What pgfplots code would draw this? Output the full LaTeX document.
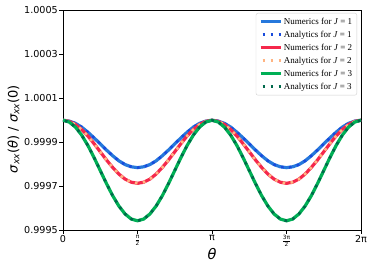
\documentclass[border=0pt]{standalone}
\usepackage{pgfplots}
\pgfplotsset{compat=1.18}
\usepackage{pgfplotstable}
\usepackage{fontspec}
\setmainfont{Liberation Serif}
\newfontfamily\djv{DejaVu Sans}
\definecolor{cB}{RGB}{38,120,220}
\definecolor{cBd}{RGB}{25,75,220}
\definecolor{cR}{RGB}{245,40,75}
\definecolor{cO}{RGB}{255,180,130}
\definecolor{cG}{RGB}{0,175,85}
\definecolor{cGd}{RGB}{0,105,75}
\newcommand\fr[2]{$\frac{\mbox{\djv\fontsize{5.8}{6}\selectfont #1}}{\mbox{\djv\fontsize{5.8}{6}\selectfont #2}}$}
\newcommand\sig{{\itshape σ}\textsubscript{\itshape xx}}
\pgfplotstableread{
x j1 j2 j3
0.0000 1.000000 1.000000 1.000000
0.1309 0.999996 0.999995 0.999992
0.2618 0.999986 0.999981 0.999969
0.3927 0.999969 0.999958 0.999933
0.5236 0.999946 0.999929 0.999886
0.6545 0.999920 0.999894 0.999831
0.7854 0.999893 0.999857 0.999772
0.9163 0.999865 0.999820 0.999713
1.0472 0.999839 0.999786 0.999658
1.1781 0.999816 0.999756 0.999611
1.3090 0.999799 0.999733 0.999575
1.4399 0.999789 0.999719 0.999552
1.5708 0.999785 0.999714 0.999544
1.7017 0.999789 0.999719 0.999552
1.8326 0.999799 0.999733 0.999575
1.9635 0.999816 0.999756 0.999611
2.0944 0.999839 0.999786 0.999658
2.2253 0.999865 0.999820 0.999713
2.3562 0.999893 0.999857 0.999772
2.4871 0.999920 0.999894 0.999831
2.6180 0.999946 0.999929 0.999886
2.7489 0.999969 0.999958 0.999933
2.8798 0.999986 0.999981 0.999969
3.0107 0.999996 0.999995 0.999992
3.1416 1.000000 1.000000 1.000000
3.2725 0.999996 0.999995 0.999992
3.4034 0.999986 0.999981 0.999969
3.5343 0.999969 0.999958 0.999933
3.6652 0.999946 0.999929 0.999886
3.7961 0.999920 0.999894 0.999831
3.9270 0.999893 0.999857 0.999772
4.0579 0.999865 0.999820 0.999713
4.1888 0.999839 0.999786 0.999658
4.3197 0.999816 0.999756 0.999611
4.4506 0.999799 0.999733 0.999575
4.5815 0.999789 0.999719 0.999552
4.7124 0.999785 0.999714 0.999544
4.8433 0.999789 0.999719 0.999552
4.9742 0.999799 0.999733 0.999575
5.1051 0.999816 0.999756 0.999611
5.2360 0.999839 0.999786 0.999658
5.3669 0.999865 0.999820 0.999713
5.4978 0.999893 0.999857 0.999772
5.6287 0.999920 0.999894 0.999831
5.7596 0.999946 0.999929 0.999886
5.8905 0.999969 0.999958 0.999933
6.0214 0.999986 0.999981 0.999969
6.1523 0.999996 0.999995 0.999992
6.2832 1.000000 1.000000 1.000000
}\data
\begin{document}
\begin{tikzpicture}
\useasboundingbox (-63pt,-39.5pt) rectangle (311pt,230.5pt);
\begin{axis}[
  at={(0,0)}, anchor=south west,
  scale only axis, width=298pt, height=220.5pt,
  xmin=0, xmax=6.2832, ymin=0.9995, ymax=1.0005,
  xtick={0,1.5708,3.1416,4.7124,6.2832},
  xticklabels={0,\fr{π}{2},π,\fr{3π}{2},2π},
  ytick={0.9995,0.9997,0.9999,1.0001,1.0003,1.0005},
  yticklabels={0.9995,0.9997,0.9999,1.0001,1.0003,1.0005},
  scaled y ticks=false, scaled x ticks=false,
  tick pos=left, tick align=outside,
  major tick length=3.5pt,
  tick style={black, line width=0.8pt},
  axis line style={line width=0.8pt},
  ticklabel style={font=\djv\fontsize{9.6}{11}\selectfont},
  xticklabel style={inner sep=1pt},
  yticklabel style={inner sep=1.5pt},
  xlabel={\itshape θ},
  ylabel={\sig(\textit{θ}) / \sig(0)},
  xlabel style={font=\djv\fontsize{14.5}{16}\selectfont, at={(axis description cs:0.5,-0.107)}, anchor=center},
  ylabel style={font=\djv\fontsize{13}{15}\selectfont, at={(axis description cs:-0.1661,0.46)}, anchor=center},
  legend cell align=left,
  legend style={at={(0.9866,0.9864)}, anchor=north east, draw=black!18, rounded corners=2pt,
    font=\fontsize{9}{10}\selectfont, row sep=0pt,
    nodes={inner sep=1.6pt, text height=7.5pt, text depth=2.3pt}},
  legend image code/.code={\draw[#1] (0pt,0pt) -- (20pt,0pt);},
]
\addplot[cB, line width=3.2pt] table[x=x,y=j1]{\data};
\addlegendentry{Numerics for \textit{J} = 1}
\addplot[cBd, line width=2.6pt, dash pattern=on 2.6pt off 5.4pt, dash phase=-2pt] table[x=x,y=j1]{\data};
\addlegendentry{Analytics for \textit{J} = 1}
\addplot[cR, line width=3.2pt] table[x=x,y=j2]{\data};
\addlegendentry{Numerics for \textit{J} = 2}
\addplot[cO, line width=2.6pt, dash pattern=on 2.6pt off 5.4pt, dash phase=-2pt] table[x=x,y=j2]{\data};
\addlegendentry{Analytics for \textit{J} = 2}
\addplot[cG, line width=3.2pt] table[x=x,y=j3]{\data};
\addlegendentry{Numerics for \textit{J} = 3}
\addplot[cGd, line width=2.6pt, dash pattern=on 2.6pt off 5.4pt, dash phase=-2pt] table[x=x,y=j3]{\data};
\addlegendentry{Analytics for \textit{J} = 3}
\end{axis}
\end{tikzpicture}
\end{document}
